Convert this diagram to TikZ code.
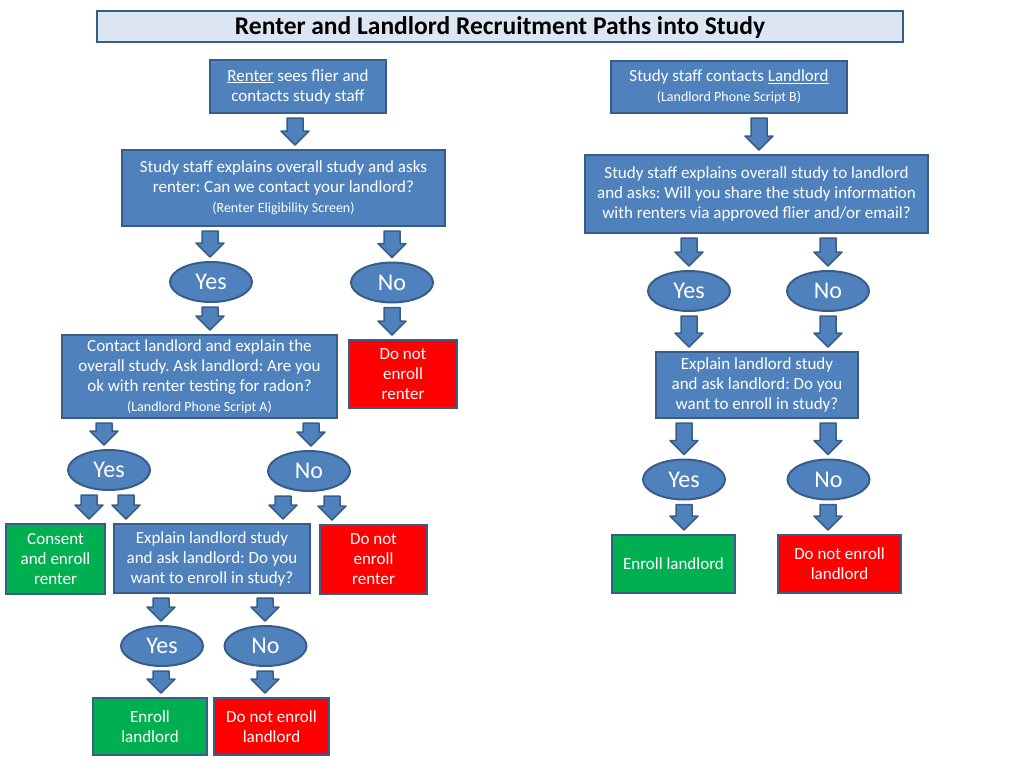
\documentclass[tikz,border=0pt]{standalone}
\usepackage{fontspec}
\setmainfont{Carlito}
\frenchspacing
\usetikzlibrary{shapes.geometric,calc}
\definecolor{boxblue}{HTML}{4F81BD}
\definecolor{boxline}{HTML}{385D8A}
\definecolor{titlefill}{HTML}{DCE6F2}
\definecolor{okgreen}{HTML}{00B050}
\definecolor{stopred}{HTML}{FF0000}
\newcommand{\scripttxt}[1]{{\fontsize{14}{16}\selectfont #1}}
% x of the arrow, node above, node below
\newcommand{\blockarrow}[3]{%
  \filldraw[blockarrow] let \p1=(#2.south), \p2=(#3.north) in
    ({#1pt-8pt},{\y1-4pt}) -- ({#1pt+8pt},{\y1-4pt}) -- ({#1pt+8pt},{\y2+18pt})
    -- ({#1pt+14pt},{\y2+18pt}) -- ({#1pt},{\y2+4pt}) -- ({#1pt-14pt},{\y2+18pt})
    -- ({#1pt-8pt},{\y2+18pt}) -- cycle;}
\begin{document}
\begin{tikzpicture}[x=1pt, y=-1pt,
  every node/.style={align=center, inner sep=0pt, line width=2pt, draw=boxline},
  bluebox/.style={rectangle, fill=boxblue, text=white, font=\fontsize{17}{20}\selectfont},
  greenbox/.style={bluebox, fill=okgreen},
  redbox/.style={bluebox, fill=stopred},
  choice/.style={ellipse, fill=boxblue, text=white, minimum width=82, minimum height=40,
    font=\fontsize{24}{26}\selectfont},
  blockarrow/.style={fill=boxblue, draw=boxline, line width=1.5pt, line join=round}]
\useasboundingbox (0,0) rectangle (1024,768);
\node[fill=titlefill, minimum width=806, minimum height=31, text height=19, text depth=3,
  font=\fontsize{25.5}{28}\selectfont\bfseries]
  (title) at (500,26.5) {Renter and Landlord Recruitment Paths into Study};

\node[bluebox, minimum width=176, minimum height=53] (rentsee) at (298,86.5)
  {\underline{Renter} sees flier and\\ contacts study staff};
\node[bluebox, minimum width=323, minimum height=76] (rentask) at (283.5,188)
  {Study staff explains overall study and asks\\ renter: Can we contact your landlord?\\ \scripttxt{(Renter Eligibility Screen)}};
\node[choice] (rentyes) at (211,282) {Yes};
\node[choice] (rentno) at (392,282.5) {No};
\node[bluebox, minimum width=275, minimum height=83] (llcontact) at (199.5,376.5)
  {Contact landlord and explain the\\ overall study. Ask landlord: Are you\\ ok with renter testing for radon?\\ \scripttxt{(Landlord Phone Script A)}};
\node[redbox, minimum width=108, minimum height=68] (rentstop) at (403,374) {Do not\\ enroll\\ renter};
\node[choice] (llyes) at (109,470) {Yes};
\node[choice] (llno) at (309,471) {No};
\node[greenbox, minimum width=99, minimum height=70] (consent) at (55.5,559) {Consent\\ and enroll\\ renter};
\node[bluebox, minimum width=196, minimum height=69] (llask) at (212,558.5)
  {Explain landlord study\\ and ask landlord: Do you\\ want to enroll in study?};
\node[redbox, minimum width=107, minimum height=69] (rentstoptwo) at (373.5,559.5) {Do not\\ enroll\\ renter};
\node[choice] (askyes) at (162,646) {Yes};
\node[choice] (askno) at (265.5,646) {No};
\node[greenbox, minimum width=114, minimum height=57] (llenroll) at (150,726.5) {Enroll\\ landlord};
\node[redbox, minimum width=115, minimum height=57] (llstop) at (271.5,726.5) {Do not enroll\\ landlord};

\node[bluebox, minimum width=236, minimum height=52] (llcall) at (729,87)
  {Study staff contacts \underline{Landlord}\\ \scripttxt{(Landlord Phone Script B)}};
\node[bluebox, minimum width=343, minimum height=78] (llshare) at (756.5,194)
  {Study staff explains overall study to landlord\\ and asks: Will you share the study information\\ with renters via approved flier and/or email?};
\node[choice] (shareyes) at (689,291) {Yes};
\node[choice] (shareno) at (828,291) {No};
\node[bluebox, minimum width=202, minimum height=66] (llasktwo) at (757,385)
  {Explain landlord study\\ and ask landlord: Do you\\ want to enroll in study?};
\node[choice] (askyestwo) at (684,479.5) {Yes};
\node[choice] (asknotwo) at (828.5,479.5) {No};
\node[greenbox, minimum width=123, minimum height=58] (llenrolltwo) at (673.5,564) {Enroll landlord};
\node[redbox, minimum width=123, minimum height=58] (llstoptwo) at (839.5,564) {Do not enroll\\ landlord};

\blockarrow{295}{rentsee}{rentask}
\blockarrow{210}{rentask}{rentyes}
\blockarrow{392}{rentask}{rentno}
\blockarrow{210}{rentyes}{llcontact}
\blockarrow{392}{rentno}{rentstop}
\blockarrow{104}{llcontact}{llyes}
\blockarrow{311}{llcontact}{llno}
\blockarrow{89}{llyes}{consent}
\blockarrow{126}{llyes}{llask}
\blockarrow{283}{llno}{llask}
\blockarrow{332}{llno}{rentstoptwo}
\blockarrow{161}{llask}{askyes}
\blockarrow{265}{llask}{askno}
\blockarrow{161}{askyes}{llenroll}
\blockarrow{265}{askno}{llstop}

\blockarrow{759}{llcall}{llshare}
\blockarrow{689}{llshare}{shareyes}
\blockarrow{828}{llshare}{shareno}
\blockarrow{689}{shareyes}{llasktwo}
\blockarrow{828}{shareno}{llasktwo}
\blockarrow{684}{llasktwo}{askyestwo}
\blockarrow{828}{llasktwo}{asknotwo}
\blockarrow{684}{askyestwo}{llenrolltwo}
\blockarrow{828}{asknotwo}{llstoptwo}
\end{tikzpicture}
\end{document}
